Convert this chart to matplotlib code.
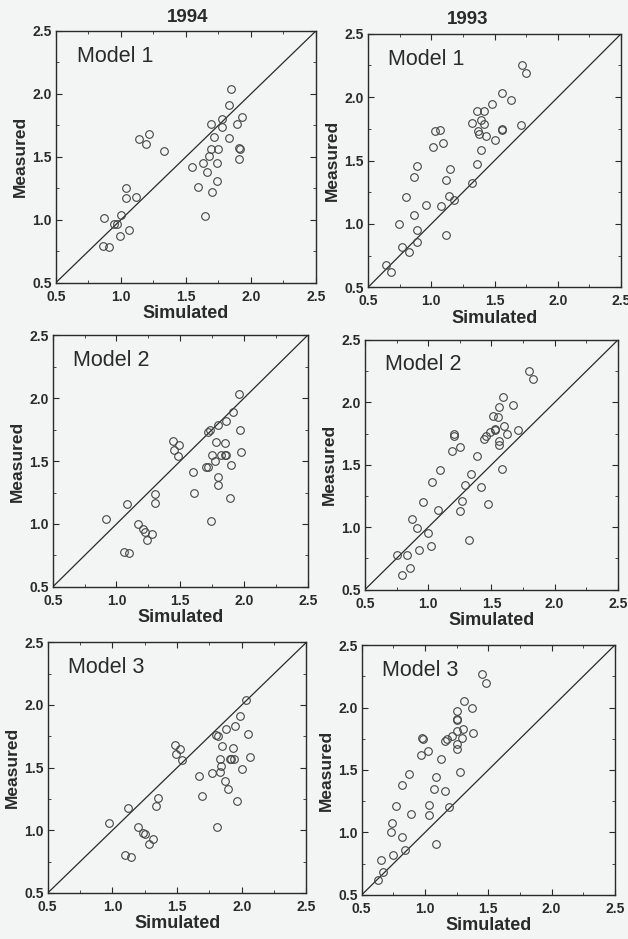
import numpy as np
import matplotlib
matplotlib.use('Agg')
import matplotlib.pyplot as plt
from matplotlib.ticker import MultipleLocator

plt.rcParams['font.family'] = ['Liberation Sans', 'DejaVu Sans']

# 1994, Model 1
sim_94_m1 = [1.85, 1.83, 1.78, 1.93, 1.69, 1.89, 1.78, 1.72, 1.83, 1.14, 1.22, 1.19, 1.33,
             1.69, 1.75, 1.91, 1.92, 1.68, 1.91, 1.55, 1.63, 1.74, 1.66, 1.74, 1.59, 1.70,
             1.04, 1.04, 1.12, 1.00, 0.87, 0.95, 0.97, 1.06, 0.99, 0.86, 0.91, 1.65]
mea_94_m1 = [2.04, 1.91, 1.80, 1.82, 1.76, 1.76, 1.74, 1.66, 1.65, 1.64, 1.68, 1.60, 1.55,
             1.56, 1.56, 1.57, 1.56, 1.51, 1.48, 1.42, 1.45, 1.45, 1.38, 1.31, 1.26, 1.22,
             1.25, 1.17, 1.18, 1.04, 1.01, 0.97, 0.97, 0.92, 0.87, 0.79, 0.78, 1.03]

# 1993, Model 1
sim_93_m1 = [1.72, 1.75, 1.56, 1.63, 1.48, 1.36, 1.42, 1.32, 1.39, 1.42, 1.71, 1.56, 1.56,
             1.37, 1.38, 1.43, 1.50, 1.03, 1.07, 1.01, 1.09, 1.39, 1.36, 0.89, 1.15, 0.86,
             1.12, 1.32, 0.80, 1.14, 1.18, 0.96, 1.08, 0.86, 0.745, 0.89, 1.12, 0.89, 0.77,
             0.82, 0.645, 0.68]
mea_93_m1 = [2.25, 2.19, 2.03, 1.98, 1.95, 1.89, 1.89, 1.80, 1.82, 1.79, 1.78, 1.75, 1.74,
             1.73, 1.71, 1.69, 1.66, 1.73, 1.74, 1.61, 1.64, 1.58, 1.47, 1.46, 1.43, 1.37,
             1.35, 1.32, 1.21, 1.22, 1.19, 1.15, 1.14, 1.07, 1.00, 0.95, 0.91, 0.86, 0.82,
             0.78, 0.68, 0.62]

# 1994, Model 2
sim_94_m2 = [1.96, 1.91, 1.86, 1.80, 1.73, 1.72, 1.97, 1.78, 1.85, 1.44, 1.49, 1.45, 1.48,
             1.75, 1.82, 1.85, 1.86, 1.77, 1.98, 1.90, 1.60, 1.70, 1.72, 1.80, 1.80, 1.61,
             1.89, 1.305, 1.30, 1.08, 0.92, 1.17, 1.21, 1.22, 1.28, 1.24, 1.06, 1.10, 1.74]
mea_94_m2 = [2.03, 1.89, 1.82, 1.79, 1.75, 1.73, 1.75, 1.65, 1.64, 1.66, 1.63, 1.59, 1.54,
             1.55, 1.55, 1.55, 1.55, 1.50, 1.57, 1.47, 1.41, 1.45, 1.45, 1.37, 1.31, 1.25,
             1.21, 1.24, 1.17, 1.16, 1.04, 1.00, 0.96, 0.94, 0.92, 0.87, 0.78, 0.77, 1.02]

# 1993, Model 2
sim_93_m2 = [1.80, 1.83, 1.59, 1.67, 1.56, 1.51, 1.55, 1.60, 1.53, 1.53, 1.71, 1.49, 1.455,
             1.44, 1.62, 1.56, 1.56, 1.205, 1.205, 1.255, 1.19, 1.39, 1.58, 1.09, 1.34, 1.03,
             1.29, 1.42, 0.96, 1.27, 1.47, 1.08, 1.25, 0.87, 0.91, 1.00, 0.93, 1.02, 1.32,
             0.83, 0.75, 0.86, 0.79]
mea_93_m2 = [2.25, 2.19, 2.04, 1.98, 1.96, 1.89, 1.88, 1.81, 1.79, 1.78, 1.78, 1.76, 1.73,
             1.705, 1.745, 1.69, 1.66, 1.745, 1.73, 1.64, 1.61, 1.57, 1.47, 1.455, 1.43, 1.36,
             1.34, 1.32, 1.20, 1.21, 1.19, 1.14, 1.13, 1.065, 0.99, 0.95, 0.82, 0.85, 0.90,
             0.78, 0.78, 0.67, 0.615]

# 1994, Model 3
sim_94_m3 = [2.03, 1.99, 1.945, 1.88, 1.80, 1.82, 2.05, 1.85, 1.93, 1.48, 1.52, 1.49, 1.54,
             1.83, 1.91, 1.92, 1.94, 2.06, 1.84, 2.00, 1.77, 1.83, 1.67, 1.87, 1.89, 1.69,
             1.96, 1.35, 1.34, 1.12, 0.97, 1.20, 1.24, 1.25, 1.31, 1.28, 1.10, 1.14, 1.81]
mea_94_m3 = [2.04, 1.91, 1.83, 1.81, 1.76, 1.75, 1.77, 1.67, 1.66, 1.68, 1.65, 1.61, 1.56,
             1.57, 1.57, 1.57, 1.57, 1.585, 1.51, 1.49, 1.46, 1.465, 1.43, 1.39, 1.33, 1.27,
             1.23, 1.26, 1.19, 1.18, 1.056, 1.03, 0.98, 0.97, 0.93, 0.89, 0.80, 0.79, 1.03]

# 1993, Model 3
sim_93_m3 = [1.45, 1.48, 1.305, 1.37, 1.25, 1.25, 1.25, 1.30, 1.25, 1.38, 1.21, 1.17, 1.16,
             1.29, 1.25, 1.25, 0.98, 0.985, 1.02, 0.97, 1.126, 1.28, 0.87, 1.09, 0.82, 1.07,
             1.155, 0.77, 1.03, 1.19, 0.89, 1.03, 0.74, 0.73, 0.82, 1.09, 0.84, 0.75, 0.65,
             0.665, 0.63]
mea_93_m3 = [2.27, 2.20, 2.05, 2.00, 1.97, 1.91, 1.90, 1.83, 1.81, 1.80, 1.77, 1.745, 1.73,
             1.76, 1.71, 1.67, 1.76, 1.745, 1.655, 1.62, 1.585, 1.48, 1.47, 1.44, 1.38, 1.35,
             1.33, 1.21, 1.22, 1.20, 1.15, 1.14, 1.076, 1.00, 0.96, 0.91, 0.86, 0.82, 0.78,
             0.68, 0.62]

panels = [
    ('Model 1', sim_94_m1, mea_94_m1, [0.089, 0.699, 0.414, 0.268]),
    ('Model 1', sim_93_m1, mea_93_m1, [0.586, 0.694, 0.403, 0.270]),
    ('Model 2', sim_94_m2, mea_94_m2, [0.084, 0.375, 0.406, 0.268]),
    ('Model 2', sim_93_m2, mea_93_m2, [0.581, 0.372, 0.403, 0.266]),
    ('Model 3', sim_94_m3, mea_94_m3, [0.076, 0.049, 0.412, 0.267]),
    ('Model 3', sim_93_m3, mea_93_m3, [0.576, 0.047, 0.403, 0.266]),
]

bg = '#f3f5f5'
ink = '#2a2a2a'
fig = plt.figure(figsize=(6.28, 9.39), dpi=100, facecolor=bg)

for name, xs, ys, pos in panels:
    ax = fig.add_axes(pos, facecolor=bg)
    ax.plot([0.5, 2.5], [0.5, 2.5], color=ink, lw=0.9)
    ax.plot(xs, ys, 'o', ms=5.5, mfc='none', mec='#444444', mew=0.8)
    ax.set_xlim(0.5, 2.5)
    ax.set_ylim(0.5, 2.5)
    ax.xaxis.set_major_locator(MultipleLocator(0.5))
    ax.yaxis.set_major_locator(MultipleLocator(0.5))
    ax.xaxis.set_minor_locator(MultipleLocator(0.25))
    ax.yaxis.set_minor_locator(MultipleLocator(0.25))
    ax.tick_params(which='both', direction='in', top=True, right=True, color=ink)
    ax.tick_params(which='major', length=4, labelsize=10, pad=3)
    ax.tick_params(axis='x', which='major', pad=5)
    ax.tick_params(which='minor', length=2.5)
    for lab in ax.get_xticklabels() + ax.get_yticklabels():
        lab.set_fontweight('bold')
        lab.set_color(ink)
    for s in ax.spines.values():
        s.set_color(ink)
        s.set_linewidth(1.0)
    ax.set_xlabel('Simulated', fontsize=13, fontweight='bold', color=ink, labelpad=1)
    ax.set_ylabel('Measured', fontsize=12.5, fontweight='bold', color=ink, labelpad=3)
    ax.text(0.08, 0.9, name, transform=ax.transAxes, fontsize=15.5, color=ink,
            ha='left', va='center')

fig.text(0.298, 0.981, '1994', fontsize=13.5, fontweight='bold', color=ink, ha='center', va='center')
fig.text(0.745, 0.979, '1993', fontsize=13.5, fontweight='bold', color=ink, ha='center', va='center')

fig.savefig('out.png', dpi=100, facecolor=bg)
